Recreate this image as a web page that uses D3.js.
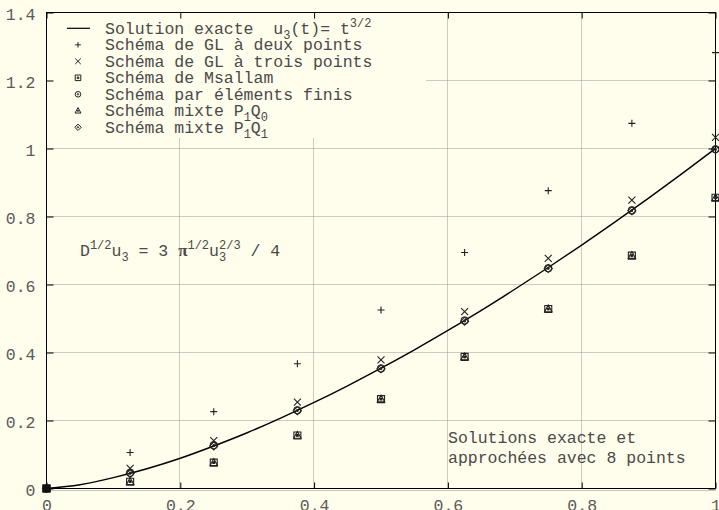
<!DOCTYPE html>
<html><head><meta charset="utf-8">
<script src="https://cdn.jsdelivr.net/npm/d3@7"></script>
<style>
body{margin:0;background:#fffdeb;}
svg{display:block;}
</style></head>
<body>
<svg id="c" width="719" height="510"></svg>
<script>
// ---- data ----
const xNodes     = [0, 0.125, 0.25, 0.375, 0.5, 0.625, 0.75, 0.875, 1];
const glTwo      = [0, 0.106, 0.226, 0.367, 0.525, 0.694, 0.876, 1.074, 1.282];
const glThree    = [0, 0.059, 0.141, 0.254, 0.378, 0.520, 0.677, 0.848, 1.033];
const msallam    = [0, 0.020, 0.076, 0.156, 0.263, 0.387, 0.528, 0.685, 0.855];
const finiteEl   = [0, 0.046, 0.127, 0.230, 0.353, 0.494, 0.648, 0.818, 0.998];
const mixteP1Q0  = [0, 0.020, 0.076, 0.156, 0.263, 0.387, 0.528, 0.685, 0.855];
const mixteP1Q1  = [0, 0.044, 0.125, 0.229, 0.352, 0.492, 0.647, 0.817, 0.997];
const exactT     = [0, 0.05, 0.1, 0.15, 0.2, 0.25, 0.3, 0.35, 0.4, 0.45, 0.5, 0.55, 0.6, 0.65, 0.7, 0.75, 0.8, 0.85, 0.9, 0.95, 1];
const exactU     = [0, 0.011, 0.032, 0.058, 0.089, 0.125, 0.164, 0.207, 0.253, 0.302, 0.354, 0.408, 0.465, 0.524, 0.586, 0.650, 0.716, 0.784, 0.854, 0.926, 1.0];
const xTickValues = [0, 0.2, 0.4, 0.6, 0.8, 1];
const xTickLabels = ["0", "0.2", "0.4", "0.6", "0.8", "1"];
const yTickValues = [0, 0.2, 0.4, 0.6, 0.8, 1, 1.2, 1.4];
const yTickLabels = ["0", "0.2", "0.4", "0.6", "0.8", "1", "1.2", "1.4"];

const BG = "#fffdeb";
const TXT = "#4a4a4a";
const MONO = "'Liberation Mono','DejaVu Sans Mono',monospace";

const svg = d3.select("#c");
svg.append("rect").attr("width",719).attr("height",510).attr("fill",BG);

const x = d3.scaleLinear().domain([0,1]).range([46.5, 715.5]);
const y = d3.scaleLinear().domain([0,1.4]).range([488.5, 12.5]);

// grid
const grid = svg.append("g").attr("stroke","#999").attr("stroke-width",1).attr("stroke-dasharray","1,1");
grid.selectAll("line.gx").data(xTickValues.filter(v=>v>0&&v<1)).join("line")
  .attr("x1",d=>Math.round(x(d))-0.5).attr("x2",d=>Math.round(x(d))-0.5)
  .attr("y1",y(0)).attr("y2",y(1.4));
grid.selectAll("line.gy").data(yTickValues.filter(v=>v<1.4)).join("line")
  .attr("y1",d=>Math.round(y(d))+0.5-(d===0?-1:0)).attr("y2",d=>Math.round(y(d))+0.5-(d===0?-1:0))
  .attr("x1",x(0)).attr("x2",x(1));

// opaque key box
svg.append("rect").attr("x",47).attr("y",13).attr("width",379).attr("height",125).attr("fill",BG);

// axes (inward ticks)
const ax = svg.append("g").attr("transform",`translate(0,${y(0)})`)
  .call(d3.axisBottom(x).tickValues(xTickValues).tickFormat((d,i)=>xTickLabels[i]).tickSizeInner(-6).tickSizeOuter(0).tickPadding(11));
const axT = svg.append("g").attr("transform",`translate(0,${y(1.4)})`)
  .call(d3.axisTop(x).tickValues(xTickValues).tickFormat("").tickSizeInner(-6).tickSizeOuter(0));
const ay = svg.append("g").attr("transform",`translate(${x(0)},0)`)
  .call(d3.axisLeft(y).tickValues(yTickValues).tickFormat((d,i)=>yTickLabels[i]).tickSizeInner(-7).tickSizeOuter(0).tickPadding(11));
const ayR = svg.append("g").attr("transform",`translate(${x(1)},0)`)
  .call(d3.axisRight(y).tickValues(yTickValues).tickFormat("").tickSizeInner(-7).tickSizeOuter(0));
[ax,axT,ay,ayR].forEach(g=>{
  g.select(".domain").remove();
  g.selectAll(".tick line").attr("stroke","#000");
  g.selectAll("text").attr("font-family",MONO).attr("font-size","16.5px").attr("fill","#5a5a5a");
});
ay.selectAll("text").attr("dy","0.45em");

// frame
svg.append("rect").attr("x",x(0)).attr("y",y(1.4)).attr("width",x(1)-x(0)).attr("height",y(0)-y(1.4))
  .attr("fill","none").attr("stroke","#000").attr("stroke-width",1);

// exact curve
const exactData = exactT.map((t,i)=>[t,exactU[i]]);
svg.append("path").datum(exactData)
  .attr("d", d3.line().x(d=>x(d[0])).y(d=>y(d[1])).curve(d3.curveMonotoneX))
  .attr("fill","none").attr("stroke","#000").attr("stroke-width",1.4);

// markers
const S = 3.5;
const dot = r => `M${-r},0a${r},${r} 0 1,0 ${2*r},0a${r},${r} 0 1,0 ${-2*r},0`;
const shapes = {
  plus:    s => `M${-s},0H${s}M0,${-s}V${s}`,
  cross:   s => `M${-s},${-s}L${s},${s}M${-s},${s}L${s},${-s}`,
  square:  s => `M${-s},${-s}H${s}V${s}H${-s}Z` + `M-0.8,-0.8h1.6v1.6h-1.6Z`,
  circle:  s => dot(s) + dot(0.7),
  triangle:s => `M0,${-s*1.15}L${s*1.05},${s*0.8}L${-s*1.05},${s*0.8}Z` + dot(0.7),
  diamond: s => `M0,${-s*1.15}L${s*1.15},0L0,${s*1.15}L${-s*1.15},0Z` + dot(0.7)
};
const series = [
  {name:"glTwo",    vals:glTwo,     shape:"plus"},
  {name:"glThree",  vals:glThree,   shape:"cross"},
  {name:"msallam",  vals:msallam,   shape:"square"},
  {name:"finiteEl", vals:finiteEl,  shape:"circle"},
  {name:"p1q0",     vals:mixteP1Q0, shape:"triangle"},
  {name:"p1q1",     vals:mixteP1Q1, shape:"diamond"}
];
series.forEach(sr=>{
  svg.append("g").selectAll("path").data(xNodes.map((t,i)=>[t,sr.vals[i]])).join("path")
    .attr("transform",d=>`translate(${x(d[0])},${y(d[1])})`)
    .attr("d",shapes[sr.shape](S))
    .attr("fill","none").attr("stroke","#222").attr("stroke-width",1.1);
});
// origin blob (all series coincide at 0)
svg.append("rect").attr("x",x(0)-4).attr("y",y(0)-4).attr("width",8).attr("height",8).attr("fill","#111");

// rich text helper
function rich(g, xx, yy, parts, size){
  const t = g.append("text").attr("x",xx).attr("y",yy).attr("font-family",MONO)
    .attr("font-size",size+"px").attr("fill",TXT).attr("xml:space","preserve").style("white-space","pre");
  let level = 0;
  parts.forEach(p=>{
    const target = p.k==="sub"?5:(p.k==="sup"?-7:0);
    const ts = t.append("tspan").text(p.t).attr("dy",target-level);
    if(p.dx) ts.attr("dx",p.dx);
    if(p.k) ts.attr("font-size","12px");
    if(p.f) ts.attr("font-family",p.f).attr("font-weight","bold").attr("font-size","17px");
    level = target;
  });
  return t;
}

// legend
const leg = svg.append("g");
const rowC = i => 28.3 + 16.5*i;
leg.append("line").attr("x1",67).attr("x2",90).attr("y1",rowC(0)).attr("y2",rowC(0)).attr("stroke","#000").attr("stroke-width",1.2);
rich(leg,105,rowC(0)+5.5,[{t:"Solution exacte  u"},{t:"3",k:"sub"},{t:"(t)= t"},{t:"3/2",k:"sup"}],16.5);
const legTexts = [
  [{t:"Schéma de GL à deux points"}],
  [{t:"Schéma de GL à trois points"}],
  [{t:"Schéma de Msallam"}],
  [{t:"Schéma par éléments finis"}],
  [{t:"Schéma mixte P"},{t:"1",k:"sub"},{t:"Q"},{t:"0",k:"sub"}],
  [{t:"Schéma mixte P"},{t:"1",k:"sub"},{t:"Q"},{t:"1",k:"sub"}]
];
series.forEach((sr,i)=>{
  leg.append("path").attr("transform",`translate(78,${rowC(i+1)})`).attr("d",shapes[sr.shape](2.8))
    .attr("fill","none").attr("stroke","#222").attr("stroke-width",1);
  rich(leg,105,rowC(i+1)+5.5,legTexts[i],16.5);
});

// annotations
rich(svg,80,256,[{t:"D"},{t:"1/2",k:"sup"},{t:"u"},{t:"3",k:"sub"},{t:" = 3 "},{t:"π",f:"'Liberation Serif',serif"},{t:"1/2",k:"sup"},{t:"u"},{t:"3",k:"sub"},{t:"2/3",k:"sup",dx:-7.2},{t:" / 4"}],16.5);
rich(svg,448,443,[{t:"Solutions exacte et"}],16.5);
rich(svg,448,463,[{t:"approchées avec 8 points"}],16.5);
</script>
</body></html>
